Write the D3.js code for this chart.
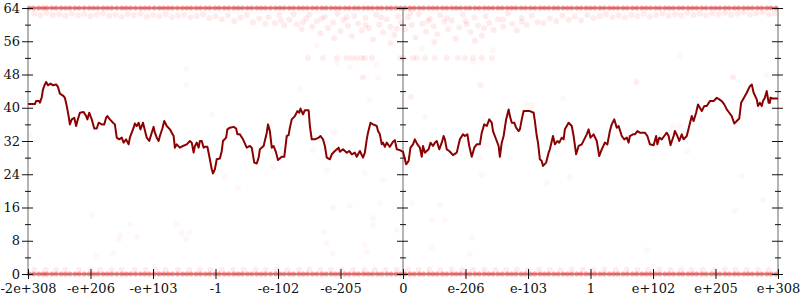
<!DOCTYPE html>
<html>
<head>
<meta charset="utf-8">
<script src="https://d3js.org/d3.v7.min.js"></script>
<style>
body { margin: 0; background: #fff; }
text { font-family: "DejaVu Serif", serif; font-size: 13px; fill: #111; }
</style>
</head>
<body>
<div id="chart"></div>
<script>

// x runs over tick slots -6..6 (the axis is an ordering of doubles, not linear)
const xTickLabels = ["-2e+308", "-e+206", "-e+103", "-1", "-e-102", "-e-205", "0",
                     "e-206", "e-103", "1", "e+102", "e+205", "e+308"];
const yTicks = [0, 4, 8, 12, 16, 20, 24, 28, 32, 36, 40, 44, 48, 52, 56, 60, 64];

// running average (slot, bits)
const avgLine = [
  [-6.00,40.9],[-5.89,40.9],[-5.87,41.6],[-5.82,41.6],[-5.81,41.2],[-5.78,42.5],[-5.76,44.4],[-5.73,45.6],
  [-5.71,46.2],[-5.68,45.4],[-5.64,45.8],[-5.60,45.4],[-5.55,45.6],[-5.52,45.0],[-5.49,43.4],[-5.43,42.8],
  [-5.41,42.4],[-5.38,40.4],[-5.35,38.0],[-5.33,36.0],[-5.30,37.2],[-5.26,37.6],[-5.23,35.6],[-5.21,36.8],
  [-5.17,38.8],[-5.11,39.0],[-5.07,38.0],[-5.05,37.2],[-5.02,38.8],[-4.98,37.2],[-4.94,35.0],[-4.90,35.0],
  [-4.87,36.4],[-4.82,36.0],[-4.78,36.0],[-4.75,37.6],[-4.73,38.0],[-4.69,37.2],[-4.64,36.4],[-4.61,36.0],
  [-4.58,32.8],[-4.54,32.4],[-4.50,32.8],[-4.47,31.6],[-4.43,32.4],[-4.39,31.2],[-4.37,32.8],[-4.34,34.0],
  [-4.31,35.2],[-4.29,36.2],[-4.26,35.6],[-4.23,36.4],[-4.20,34.8],[-4.16,36.4],[-4.14,35.2],[-4.10,32.8],
  [-4.06,32.0],[-4.02,34.0],[-3.99,35.4],[-3.97,34.0],[-3.94,32.8],[-3.91,32.0],[-3.89,33.2],[-3.85,35.0],
  [-3.82,36.8],[-3.78,35.6],[-3.73,34.8],[-3.70,34.0],[-3.67,33.2],[-3.65,30.4],[-3.62,31.2],[-3.57,30.4],
  [-3.52,30.8],[-3.46,31.2],[-3.41,32.0],[-3.38,31.6],[-3.35,29.2],[-3.33,30.8],[-3.30,31.6],[-3.27,30.4],
  [-3.25,32.0],[-3.22,32.0],[-3.19,30.4],[-3.17,30.6],[-3.13,30.6],[-3.10,28.4],[-3.06,25.2],[-3.04,24.2],
  [-3.01,25.2],[-2.98,27.6],[-2.93,27.8],[-2.90,29.6],[-2.88,32.0],[-2.83,32.8],[-2.81,34.8],[-2.77,35.2],
  [-2.71,35.4],[-2.67,35.0],[-2.65,33.6],[-2.61,33.6],[-2.56,32.4],[-2.50,30.4],[-2.45,30.8],[-2.42,30.4],
  [-2.38,26.8],[-2.34,26.6],[-2.31,28.0],[-2.29,30.0],[-2.23,30.8],[-2.18,34.0],[-2.16,36.0],[-2.13,34.4],
  [-2.10,30.4],[-2.07,30.8],[-2.03,29.2],[-2.00,27.4],[-1.94,28.2],[-1.90,28.2],[-1.86,33.2],[-1.83,33.4],
  [-1.81,35.2],[-1.78,37.2],[-1.73,38.0],[-1.69,39.2],[-1.66,38.8],[-1.64,39.8],[-1.60,38.4],[-1.57,39.4],
  [-1.51,39.4],[-1.49,35.6],[-1.46,32.4],[-1.41,32.4],[-1.35,32.8],[-1.32,33.2],[-1.28,32.4],[-1.25,30.8],
  [-1.22,28.0],[-1.17,27.6],[-1.14,28.8],[-1.09,29.6],[-1.03,30.4],[-1.01,29.4],[-0.96,30.0],[-0.90,29.2],
  [-0.86,29.6],[-0.82,28.8],[-0.77,29.2],[-0.74,28.2],[-0.69,29.6],[-0.64,28.0],[-0.61,29.2],[-0.58,32.4],
  [-0.56,34.0],[-0.52,36.4],[-0.48,36.0],[-0.42,35.6],[-0.40,34.4],[-0.37,33.6],[-0.34,31.2],[-0.32,31.6],
  [-0.29,30.6],[-0.26,31.6],[-0.24,31.2],[-0.21,30.6],[-0.16,31.8],[-0.13,32.2],[-0.10,30.0],[-0.05,29.8],
  [0.00,29.4],[0.02,28.2],[0.05,26.4],[0.09,27.2],[0.12,30.4],[0.16,31.2],[0.19,32.4],[0.23,31.2],
  [0.27,30.4],[0.30,28.2],[0.32,30.8],[0.35,29.2],[0.41,30.0],[0.44,31.6],[0.48,30.8],[0.51,31.6],
  [0.54,32.0],[0.58,30.0],[0.62,31.6],[0.65,33.2],[0.67,32.4],[0.70,30.0],[0.74,29.6],[0.80,28.6],
  [0.86,29.2],[0.91,32.4],[0.96,33.6],[0.99,33.2],[1.03,33.6],[1.06,30.8],[1.10,28.2],[1.14,30.4],
  [1.18,31.2],[1.23,31.2],[1.26,34.0],[1.30,36.0],[1.34,35.6],[1.38,37.2],[1.42,36.4],[1.44,34.4],
  [1.50,32.0],[1.53,30.8],[1.55,28.2],[1.58,31.6],[1.61,33.2],[1.65,37.2],[1.69,39.6],[1.71,38.0],
  [1.74,36.4],[1.78,36.4],[1.81,35.2],[1.85,34.4],[1.87,34.8],[1.90,37.2],[1.93,39.2],[1.95,39.2],
  [2.03,39.2],[2.09,38.8],[2.11,36.8],[2.14,33.2],[2.16,31.6],[2.19,27.6],[2.22,27.2],[2.24,26.0],
  [2.29,26.8],[2.33,29.2],[2.35,30.0],[2.40,33.2],[2.43,31.2],[2.47,32.0],[2.50,31.6],[2.54,32.8],
  [2.57,32.4],[2.59,34.8],[2.65,36.4],[2.70,35.6],[2.73,33.2],[2.77,28.8],[2.81,30.8],[2.86,31.2],
  [2.90,32.4],[2.94,33.6],[2.97,34.8],[3.00,32.8],[3.05,33.6],[3.10,32.0],[3.14,28.4],[3.18,30.0],
  [3.23,31.6],[3.27,31.2],[3.31,34.4],[3.34,36.0],[3.38,37.2],[3.42,35.2],[3.45,35.6],[3.50,33.2],
  [3.54,32.4],[3.58,32.8],[3.61,31.6],[3.63,33.2],[3.68,33.6],[3.71,33.6],[3.75,34.4],[3.79,34.0],
  [3.87,34.0],[3.91,33.2],[3.95,31.2],[4.01,31.0],[4.05,33.2],[4.07,31.2],[4.10,32.8],[4.14,32.4],
  [4.18,33.2],[4.22,34.0],[4.25,33.2],[4.28,31.0],[4.33,33.2],[4.35,34.4],[4.39,33.2],[4.42,32.0],
  [4.46,33.6],[4.49,32.4],[4.54,33.2],[4.58,35.6],[4.62,38.0],[4.65,36.8],[4.69,38.8],[4.72,40.8],
  [4.78,39.2],[4.82,40.4],[4.86,40.4],[4.91,41.6],[4.97,41.6],[5.02,42.4],[5.06,42.0],[5.10,41.6],
  [5.14,40.8],[5.18,39.6],[5.22,38.8],[5.26,38.0],[5.30,36.2],[5.34,36.8],[5.38,37.4],[5.41,41.2],
  [5.44,42.0],[5.50,43.6],[5.55,45.2],[5.58,45.6],[5.61,43.6],[5.66,42.0],[5.68,40.4],[5.71,41.2],
  [5.74,40.4],[5.76,41.6],[5.79,42.4],[5.82,44.0],[5.85,41.2],[5.87,41.2],[5.88,42.4],[5.93,42.2],
  [6.00,42.2]
];

// samples that hit the extremes (64 and 0): slot positions
const edgeSlots = [
  -5.98,-5.91,-5.83,-5.76,-5.70,-5.62,-5.55,-5.47,-5.40,-5.33,-5.25,-5.18,-5.10,-5.02,-4.95,-4.88,
  -4.80,-4.73,-4.66,-4.58,-4.50,-4.43,-4.36,-4.28,-4.20,-4.13,-4.06,-3.98,-3.90,-3.83,-3.76,-3.69,
  -3.61,-3.53,-3.46,-3.39,-3.31,-3.24,-3.16,-3.09,-3.01,-2.94,-2.86,-2.79,-2.71,-2.64,-2.57,-2.49,
  -2.42,-2.34,-2.27,-2.20,-2.12,-2.04,-1.97,-1.90,-1.82,-1.75,-1.67,-1.60,-1.53,-1.45,-1.38,-1.30,
  -1.23,-1.15,-1.08,-1.01,-0.93,-0.86,-0.78,-0.71,-0.63,-0.56,-0.49,-0.41,-0.34,-0.26,-0.19,-0.11,
  -0.04,0.03,0.11,0.18,0.26,0.33,0.41,0.48,0.55,0.63,0.70,0.78,0.85,0.92,1.00,1.07,
  1.15,1.22,1.30,1.37,1.44,1.52,1.59,1.67,1.74,1.81,1.89,1.96,2.04,2.11,2.19,2.26,
  2.33,2.41,2.48,2.56,2.63,2.70,2.78,2.85,2.93,3.00,3.07,3.15,3.22,3.30,3.37,3.44,
  3.52,3.59,3.67,3.74,3.82,3.89,3.96,4.04,4.11,4.19,4.26,4.33,4.41,4.48,4.56,4.63,
  4.70,4.78,4.85,4.93,5.00,5.07,5.15,5.22,5.30,5.37,5.45,5.52,5.59,5.67,5.74,5.82,
  5.89,5.97
];
const edgeLevels = [64, 0];

// samples just above zero (value 1)
const lowSlots = [
  -5.90,-5.72,-5.55,-5.40,-5.18,-5.00,-4.85,-4.66,-4.50,-4.30,-4.12,-3.95,-3.80,-3.60,-3.42,-3.25,
  -3.08,-2.90,-2.72,-2.55,-2.36,-2.20,-2.02,-1.85,-1.66,-1.50,-1.32,-1.15,-0.98,-0.80,-0.62,-0.45,
  -0.28,-0.10,0.08,0.25,0.42,0.60,0.78,0.95,1.12,1.30,1.48,1.65,1.82,2.00,2.18,2.35,
  2.52,2.70,2.88,3.05,3.22,3.40,3.58,3.75,3.92,4.10,4.28,4.45,4.62,4.80,4.98,5.15,
  5.32,5.50,5.68,5.85
];
const lowLevel = 1;

// row of samples at 52 near zero
const midSlots = [-1.52,-1.28,-1.06,-0.90,-0.82,-0.74,-0.66,-0.61,-0.50,-0.05,0.00,0.16,0.22,
                  0.35,0.51,0.70,0.88,0.99,1.12,1.26,1.42];
const midLevel = 52;

// cloud of samples just under 64
const topCloud = [
  [-5.9,62.6],[-5.8,62.2],[-5.7,62.8],[-5.6,62.3],[-5.5,62.5],[-5.4,62.1],[-5.3,62.7],[-5.2,62.2],
  [-5.1,62.5],[-5.0,62.0],[-4.9,62.4],[-4.8,62.7],[-4.7,62.1],[-4.6,62.4],[-4.5,61.9],[-4.4,62.5],
  [-4.3,62.2],[-4.2,62.6],[-4.1,61.9],[-4.0,62.3],[-3.9,62.0],[-3.8,62.5],[-3.7,61.8],[-3.6,62.2],
  [-3.5,62.4],[-3.4,61.7],[-3.3,62.1],[-3.2,62.5],[-3.1,61.6],[-3.0,62.0],[-2.9,61.3],[-2.8,62.2],
  [-2.7,60.9],[-2.6,61.7],[-2.5,62.3],[-2.4,60.6],[-2.3,61.4],[-2.2,60.2],
  [-2.15,61.8],[-2.05,60.4],[-1.98,62.3],[-1.9,59.8],[-1.82,61.2],[-1.75,62.5],[-1.7,60.1],[-1.62,58.9],
  [-1.55,61.5],[-1.5,62.4],[-1.45,59.5],[-1.38,60.8],[-1.32,57.9],[-1.25,61.9],[-1.2,59.2],[-1.12,60.5],
  [-1.05,62.6],[-1.0,58.4],[-0.95,61.1],[-0.88,59.7],[-0.82,57.2],[-0.78,62.1],[-0.72,60.3],[-0.66,58.6],
  [-0.6,61.6],[-0.55,59.1],[-0.48,56.4],[-0.43,62.4],[-0.38,60.0],[-0.32,58.1],[-0.26,61.3],[-0.2,59.4],
  [-0.14,57.5],[-0.08,62.0],[-0.03,60.6],[0.03,58.8],[0.08,61.8],[0.14,59.9],[0.2,56.9],[0.25,62.5],
  [0.31,60.2],[0.37,58.3],[0.43,61.4],[0.49,59.6],[0.55,57.7],[0.6,62.2],[0.66,60.7],[0.72,58.9],
  [0.78,61.0],[0.84,56.6],[0.9,59.3],[0.96,62.4],[1.02,60.1],[1.08,58.2],[1.14,61.7],[1.2,59.8],
  [1.26,57.4],[1.32,62.1],[1.38,60.4],[1.45,58.7],[1.52,61.3],[1.6,59.5],[1.68,62.6],[1.75,60.2],
  [1.82,58.6],[1.9,61.6],[1.98,59.9],[2.06,62.2],[2.15,60.6],
  [-1.95,61.0],[-1.6,60.6],[-1.3,61.5],[-0.9,61.8],[-0.6,59.9],[-0.35,61.7],[-0.1,59.0],[0.12,62.8],
  [0.4,60.9],[0.7,61.6],[1.0,60.9],[1.3,59.1],[1.6,61.2],[1.9,60.7],[-1.1,56.7],[0.5,55.8],
  [-0.2,55.5],[1.15,56.1],
  [2.25,60.4],[2.35,61.5],[2.45,60.8],[2.55,62.2],[2.65,61.2],[2.75,61.9],[2.85,61.0],[2.95,62.3],
  [3.05,61.6],[3.15,62.0],[3.25,62.5],[3.35,61.8],[3.45,62.2],[3.55,61.7],[3.65,62.4],[3.75,62.0],
  [3.85,62.6],[3.95,61.9],[4.05,62.3],[4.15,62.7],[4.25,62.1],[4.35,62.5],[4.45,62.2],[4.55,62.8],
  [4.65,62.3],[4.75,62.6],[4.85,62.2],[4.95,62.7],[5.05,62.4],[5.15,62.8],[5.25,62.3],[5.35,62.6],
  [5.45,62.9],[5.55,62.4],[5.65,62.7],[5.75,62.9],[5.85,62.5],[5.95,62.8]
];

// stray samples in the middle of the range
const strays = [
  [-4.98,14.2],[-4.90,4.3],[-4.64,5.0],[-4.53,9.2],[-4.55,8.2],[-4.37,12.0],[-4.26,8.9],[-3.62,12.0],
  [-3.54,9.9],[-3.47,8.4],[-3.42,9.9],[-1.12,16.0],[-0.85,16.4],[-0.48,13.5],[-0.48,11.8],[-1.26,10.1],
  [-1.23,7.5],[-1.12,5.0],[-0.61,7.0],[-0.58,5.3],[-0.10,10.6],[0.46,13.0],[0.67,13.0],[1.10,8.7],
  [1.07,4.8],[0.45,6.3],[0.59,16.6],[-0.37,17.0],[0.14,17.0],[-1.38,54.9],[-0.85,49.8],[-1.06,50.8],
  [-0.64,47.2],[-0.40,47.2],[-0.42,50.3],[0.11,42.6],[0.30,54.4],[1.23,45.5],[1.44,53.9],[1.12,51.0],
  [4.43,52.5],[3.73,46.2],[5.28,47.2],[5.82,47.9],[-3.46,49.3],[-3.46,45.5],[3.90,5.8],[5.31,15.2],
  [5.76,17.8],[-3.06,38.3],[-4.26,32.7],[-5.98,33.4],[-2.85,23.3],[-2.64,20.7],[-1.65,44.5],[-0.64,47.4],
  [-0.53,41.9],[-1.09,34.2],[-1.44,29.8],[-2.08,25.7],[-1.22,25.0],[-0.61,24.3],[-0.32,22.6],[1.26,45.5],
  [0.14,42.6],[0.35,37.8],[1.34,31.0],[1.23,27.9],[1.26,23.8],[1.98,40.7],[2.06,40.7],[2.56,42.3],
  [3.74,46.2],[4.32,35.6],[4.43,35.6],[4.54,29.4],[2.30,21.9],[2.67,23.3],[5.42,23.6],[5.28,47.4]
];

const width = 800, height = 300;
const plot = {left: 28, right: 778, top: 8, bottom: 274};

const svg = d3.select("#chart")
  .append("svg")
    .attr("width", width)
    .attr("height", height);

const x = d3.scaleLinear().domain([-6, 6]).range([plot.left, plot.right]);
const y = d3.scaleLinear().domain([0, 64]).range([plot.bottom, plot.top]);

// gray frame lines: three vertical axes plus top/bottom
const frame = svg.append("g").attr("stroke", "#b4b4b4").attr("stroke-width", 2);
[-6, 0, 6].forEach(s => frame.append("line")
  .attr("x1", x(s)).attr("x2", x(s)).attr("y1", y(0)).attr("y2", y(64)));
[0, 64].forEach(v => frame.append("line")
  .attr("x1", x(-6)).attr("x2", x(6)).attr("y1", y(v)).attr("y2", y(v)));

// all the individual samples
const dots = [];
edgeLevels.forEach(v => edgeSlots.forEach(s => dots.push({s: s, v: v, a: 0.38})));
lowSlots.forEach(s => dots.push({s: s, v: lowLevel, a: 0.07}));
midSlots.forEach(s => dots.push({s: s, v: midLevel, a: 0.07}));
topCloud.forEach(d => dots.push({s: d[0], v: d[1], a: 0.08}));
strays.forEach(d => dots.push({s: d[0], v: d[1], a: 0.035}));

svg.append("g")
  .selectAll("circle")
  .data(dots)
  .join("circle")
    .attr("cx", d => x(d.s))
    .attr("cy", d => y(d.v))
    .attr("r", d => d.v === 64 || d.v === 0 ? 2.5 : 3)
    .attr("fill", "red")
    .attr("fill-opacity", d => d.a);

// y axes (labels only on the left one)
const yAxis = (pos, labels) => {
  const g = svg.append("g")
    .attr("transform", `translate(${x(pos)},0)`)
    .call(d3.axisLeft(y).tickValues(yTicks)
      .tickFormat(d => (labels && d % 8 === 0) ? d : ""));
  g.select(".domain").remove();
  g.selectAll(".tick line")
    .attr("stroke", "#111")
    .attr("x1", d => d % 8 === 0 ? -6 : -3)
    .attr("x2", d => d % 8 === 0 ? 5 : 3);
  g.selectAll(".tick text")
    .attr("x", -8)
    .style("font-family", "DejaVu Serif")
    .style("font-size", "13px")
    .attr("fill", "#111");
};
yAxis(-6, true);
yAxis(0, false);
yAxis(6, false);

// x axis
const xAxis = svg.append("g")
  .attr("transform", `translate(0,${y(0)})`)
  .call(d3.axisBottom(x).tickValues(d3.range(-6, 7))
    .tickFormat((d, i) => xTickLabels[i]));
xAxis.select(".domain").remove();
xAxis.selectAll(".tick line")
  .attr("stroke", "#111")
  .attr("y1", -5)
  .attr("y2", 5);
xAxis.selectAll(".tick text")
  .attr("y", 10)
  .style("font-family", "DejaVu Serif")
  .style("font-size", "13px")
  .attr("fill", "#111");

// average line on top
svg.append("path")
  .datum(avgLine)
  .attr("fill", "none")
  .attr("stroke", "#8b0000")
  .attr("stroke-width", 2)
  .attr("stroke-linejoin", "round")
  .attr("d", d3.line().x(d => x(d[0])).y(d => y(d[1])));

</script>
</body>
</html>
